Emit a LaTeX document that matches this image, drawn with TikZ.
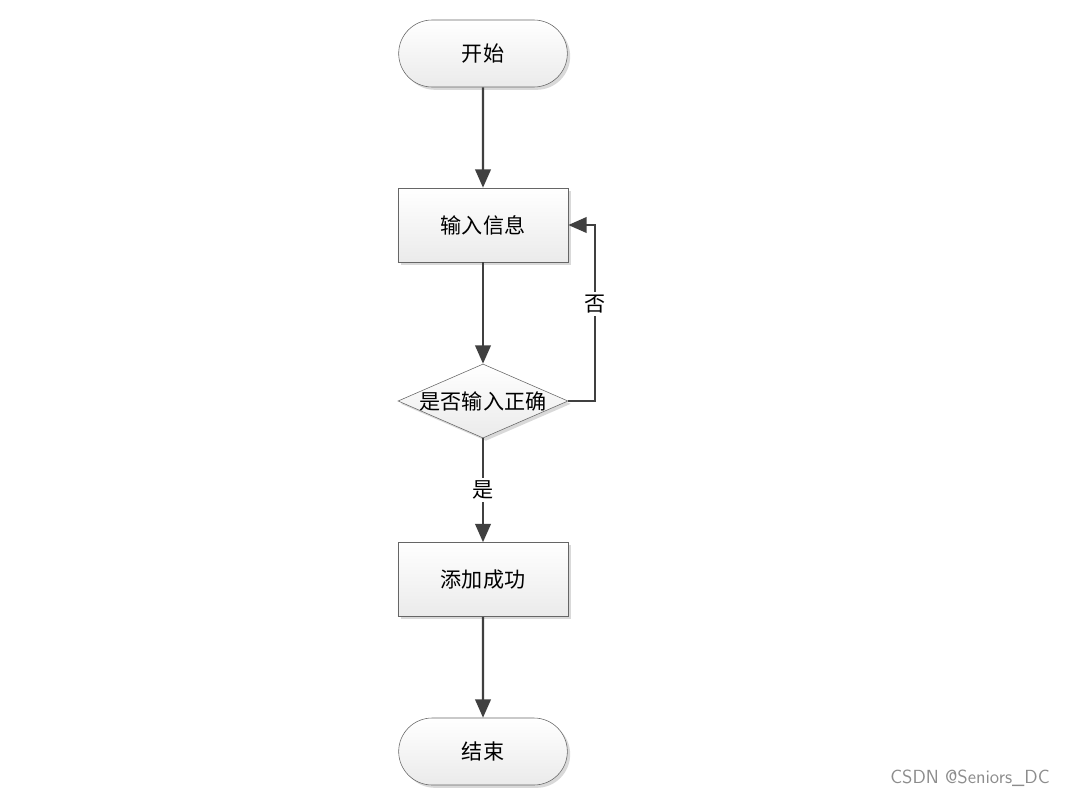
\documentclass[tikz,border=0pt]{standalone}
\usepackage{fontspec}
\newfontfamily\cjk{Noto Sans CJK SC}
\usetikzlibrary{arrows.meta,shapes.geometric,shapes.misc,shadows}
\begin{document}
\begin{tikzpicture}[x=0.025cm,y=-0.025cm,
	font=\cjk\fontsize{15}{17}\selectfont,
	flow/.style={draw=black!75, line width=1.6pt, -{Triangle[length=13pt,width=11pt]}},
	boxshade/.style={draw=black!60, top color=white, bottom color=black!8, drop shadow={shadow xshift=2pt, shadow yshift=-2pt, fill=black!25, opacity=0.6}},
	terminal/.style={rounded rectangle, boxshade, minimum width=4.45cm, minimum height=1.675cm},
	process/.style={rectangle, boxshade, minimum width=4.25cm, minimum height=1.85cm},
	decision/.style={diamond, boxshade, inner sep=0pt, minimum width=4.25cm, minimum height=1.85cm},
	flowlabel/.style={fill=white, inner sep=2pt}]
	\useasboundingbox (0,0) rectangle (1071,796);
	\node (start)	at (483,  53.5)	[terminal]	{开始};
	\node (input)	at (483, 225)	[process]	{输入信息};
	\node (check)	at (483, 401)	[decision]	{\makebox[0pt]{是否输入正确}};
	\node (done)	at (483, 579.5)	[process]	{添加成功};
	\node (stop)	at (483, 751.5)	[terminal]	{结束};
	\coordinate (loop) at (595, 401);
	\draw[flow] (start) -- (input);
	\draw[flow] (input) -- (check);
	\draw[flow] (check) -- node[flowlabel] {是} (done);
	\draw[flow] (done) -- (stop);
	\draw[flow] (check.east) -- (loop) -- node[flowlabel, pos=0.55] {否} (loop |- input.east) -- (input.east);
	\node (mark)	at (970, 778)	[text=black!45, font=\sffamily\fontsize{13.5}{15}\selectfont]	{CSDN @Seniors\_DC};
\end{tikzpicture}
\end{document}
